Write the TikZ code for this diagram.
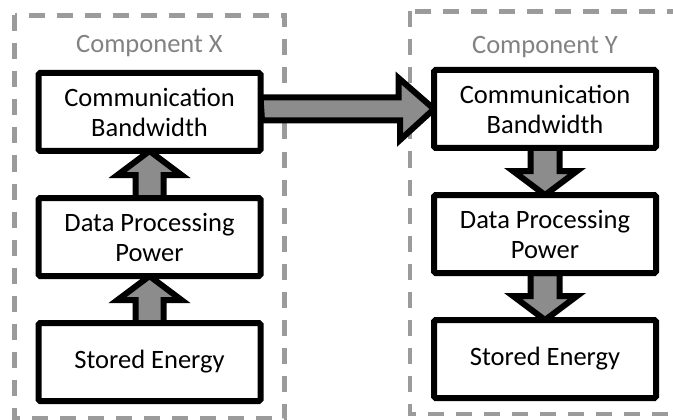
\documentclass[tikz,border=0pt]{standalone}
\usepackage{fontspec}
\setmainfont{Carlito}
\usetikzlibrary{positioning,backgrounds}

\definecolor{framegray}{RGB}{155,155,155}
\definecolor{arrowgray}{RGB}{140,140,140}
\definecolor{labelgray}{RGB}{130,130,130}

\begin{document}
\begin{tikzpicture}[x=1pt,y=1pt,node distance=47pt,line join=miter,
                    font=\fontsize{26.5}{30}\selectfont]
  \tikzstyle{block}=[draw=black,line width=6pt,fill=white,rounded corners=1.5pt,
                     minimum width=222pt,minimum height=78pt,align=center,
                     outer sep=0pt]
  \tikzstyle{dashframe}=[draw=framegray,line width=4.5pt,dash pattern=on 16pt off 12pt]
  \tikzstyle{fat}=[draw=black,line width=6pt,fill=arrowgray,line join=miter]
  \tikzstyle{compname}=[text=labelgray,inner sep=0pt]

  \useasboundingbox (0,0) rectangle (673,-420);

  \node[block]    (cX) at (149.5,-112)   {Communication\\Bandwidth};
  \node[block]    (dX) [below=of cX]     {Data Processing\\Power};
  \node[block]    (sX) [below=of dX]     {Stored Energy};
  \node[block]    (cY) at (545,-109)     {Communication\\Bandwidth};
  \node[block]    (dY) [below=of cY]     {Data Processing\\Power};
  \node[block]    (sY) [below=of dY]     {Stored Energy};
  \node[compname] (nX) [above=16pt of cX] {Component X};
  \node[compname] (nY) [above=12pt of cY] {Component Y};

  \begin{scope}[on background layer]
    \draw[dashframe] (14.5,-15.5) rectangle (284.5,-418.5);
    \draw[dashframe] (410,-11.5) rectangle (676,-414);
    % X: upwards
    \draw[fat] (sX.north) ++(-14,0) -- ++(0,23) -- ++(-18,0) -- (dX.south)
               -- ++(32,-24) -- ++(-18,0) -- ++(0,-23) -- cycle;
    \draw[fat] (dX.north) ++(-14,0) -- ++(0,23) -- ++(-18,0) -- (cX.south)
               -- ++(32,-24) -- ++(-18,0) -- ++(0,-23) -- cycle;
    % Y: downwards
    \draw[fat] (cY.south) ++(-14.5,0) -- ++(0,-23) -- ++(-17.5,0) -- (dY.north)
               -- ++(32,24) -- ++(-17.5,0) -- ++(0,23) -- cycle;
    \draw[fat] (dY.south) ++(-14.5,0) -- ++(0,-23) -- ++(-17.5,0) -- (sY.north)
               -- ++(32,24) -- ++(-17.5,0) -- ++(0,23) -- cycle;
    % X to Y
    \draw[fat] (cX.east |- cY.west) ++(0,11.5) -- ++(138,0) -- ++(0,19.5)
               -- (cY.west) -- ++(-34,-31) -- ++(0,19.5) -- ++(-138,0) -- cycle;
  \end{scope}
\end{tikzpicture}
\end{document}
